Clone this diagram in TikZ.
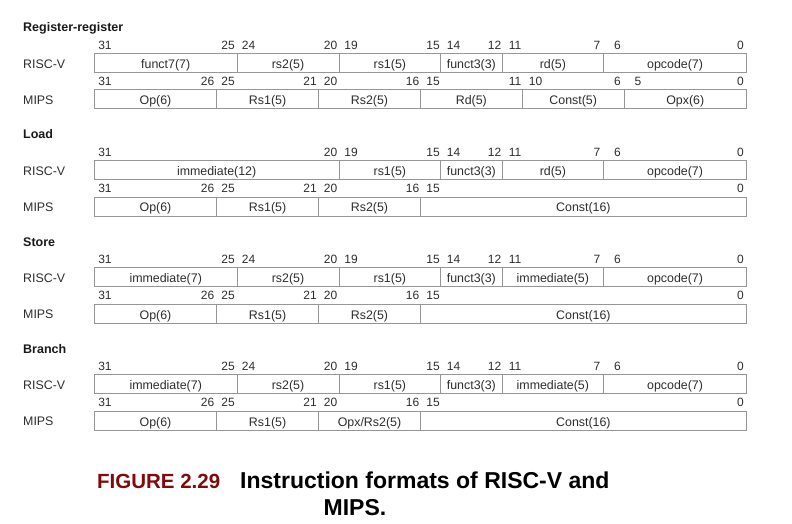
\documentclass[tikz,border=0pt]{standalone}
\usepackage{fontspec}
\setmainfont{Liberation Sans}
\definecolor{boxline}{RGB}{150,150,150}
\definecolor{txt}{RGB}{45,45,45}
\definecolor{figred}{RGB}{128,10,10}
\tikzset{
  fieldbox/.style={draw=boxline, line width=0.8bp, inner sep=0pt, text height=15bp, text depth=4bp,
    font=\fontsize{12.4bp}{14bp}\selectfont, text=txt, anchor=north west},
  bitnum/.style={inner sep=0pt, anchor=base, font=\fontsize{12bp}{14bp}\selectfont, text=txt},
  rowlabel/.style={inner sep=0pt, anchor=base west, font=\fontsize{12.4bp}{14bp}\selectfont, text=txt},
  sectitle/.style={inner sep=0pt, anchor=base west, font=\bfseries\fontsize{12.5bp}{14bp}\selectfont, text=black!90},
  caplabel/.style={inner sep=0pt, anchor=base west, font=\bfseries\fontsize{20.5bp}{24bp}\selectfont, text=figred},
  captext/.style={inner sep=0pt, font=\bfseries\fontsize{23bp}{26bp}\selectfont, text=black},
}
% field: name, high bit, low bit, top y, text
\newcommand{\fld}[5]{%
  \pgfmathsetmacro\fldx{94+(31-#2)*20.375}%
  \pgfmathsetmacro\fldw{(#2-#3+1)*20.375}%
  \node[fieldbox, minimum width=\fldw bp] (#1) at (\fldx,#4) {#5};}
% bit numbers: prefix, baseline y, list
\newcommand{\bitrow}[3]{%
  \foreach \b in {#3} {\node[bitnum] (#1-\b) at ({105+(31-\b)*20.5},#2) {\b};}}
\begin{document}
\begin{tikzpicture}[x=1bp,y=-1bp]
\useasboundingbox (0,0) rectangle (792,524);

% ---------- Register-register ----------
\begin{scope}[yshift=-52.8bp]
\node[sectitle] (rr-title) at (23,-21) {Register-register};
\bitrow{rr-rb}{-3.5}{31,25,24,20,19,15,14,12,11,7,6,0}
\node[rowlabel] (rr-rlab) at (23,15.3) {RISC-V};
\fld{rr-f7}{31}{25}{0}{funct7(7)}
\fld{rr-rs2}{24}{20}{0}{rs2(5)}
\fld{rr-rs1}{19}{15}{0}{rs1(5)}
\fld{rr-f3}{14}{12}{0}{funct3(3)}
\fld{rr-rd}{11}{7}{0}{rd(5)}
\fld{rr-op}{6}{0}{0}{opcode(7)}
\bitrow{rr-mb}{32.3}{31,26,25,21,20,16,15,11,10,6,5,0}
\node[rowlabel] (rr-mlab) at (23,51.5) {MIPS};
\fld{rr-mop}{31}{26}{36.5}{Op(6)}
\fld{rr-mrs1}{25}{21}{36.5}{Rs1(5)}
\fld{rr-mrs2}{20}{16}{36.5}{Rs2(5)}
\fld{rr-mrd}{15}{11}{36.5}{Rd(5)}
\fld{rr-mc}{10}{6}{36.5}{Const(5)}
\fld{rr-mopx}{5}{0}{36.5}{Opx(6)}
\end{scope}

% ---------- Load ----------
\begin{scope}[yshift=-160bp]
\node[sectitle] (ld-title) at (23,-21) {Load};
\bitrow{ld-rb}{-3.5}{31,20,19,15,14,12,11,7,6,0}
\node[rowlabel] (ld-rlab) at (23,15.3) {RISC-V};
\fld{ld-imm}{31}{20}{0}{immediate(12)}
\fld{ld-rs1}{19}{15}{0}{rs1(5)}
\fld{ld-f3}{14}{12}{0}{funct3(3)}
\fld{ld-rd}{11}{7}{0}{rd(5)}
\fld{ld-op}{6}{0}{0}{opcode(7)}
\bitrow{ld-mb}{32.3}{31,26,25,21,20,16,15,0}
\node[rowlabel] (ld-mlab) at (23,51.5) {MIPS};
\fld{ld-mop}{31}{26}{36.5}{Op(6)}
\fld{ld-mrs1}{25}{21}{36.5}{Rs1(5)}
\fld{ld-mrs2}{20}{16}{36.5}{Rs2(5)}
\fld{ld-mc}{15}{0}{36.5}{Const(16)}
\end{scope}

% ---------- Store ----------
\begin{scope}[yshift=-267.2bp]
\node[sectitle] (st-title) at (23,-21) {Store};
\bitrow{st-rb}{-3.5}{31,25,24,20,19,15,14,12,11,7,6,0}
\node[rowlabel] (st-rlab) at (23,15.3) {RISC-V};
\fld{st-imm}{31}{25}{0}{immediate(7)}
\fld{st-rs2}{24}{20}{0}{rs2(5)}
\fld{st-rs1}{19}{15}{0}{rs1(5)}
\fld{st-f3}{14}{12}{0}{funct3(3)}
\fld{st-imm2}{11}{7}{0}{immediate(5)}
\fld{st-op}{6}{0}{0}{opcode(7)}
\bitrow{st-mb}{32.3}{31,26,25,21,20,16,15,0}
\node[rowlabel] (st-mlab) at (23,51.5) {MIPS};
\fld{st-mop}{31}{26}{36.5}{Op(6)}
\fld{st-mrs1}{25}{21}{36.5}{Rs1(5)}
\fld{st-mrs2}{20}{16}{36.5}{Rs2(5)}
\fld{st-mc}{15}{0}{36.5}{Const(16)}
\end{scope}

% ---------- Branch ----------
\begin{scope}[yshift=-374.4bp]
\node[sectitle] (br-title) at (23,-21) {Branch};
\bitrow{br-rb}{-3.5}{31,25,24,20,19,15,14,12,11,7,6,0}
\node[rowlabel] (br-rlab) at (23,15.3) {RISC-V};
\fld{br-imm}{31}{25}{0}{immediate(7)}
\fld{br-rs2}{24}{20}{0}{rs2(5)}
\fld{br-rs1}{19}{15}{0}{rs1(5)}
\fld{br-f3}{14}{12}{0}{funct3(3)}
\fld{br-imm2}{11}{7}{0}{immediate(5)}
\fld{br-op}{6}{0}{0}{opcode(7)}
\bitrow{br-mb}{32.3}{31,26,25,21,20,16,15,0}
\node[rowlabel] (br-mlab) at (23,51.5) {MIPS};
\fld{br-mop}{31}{26}{36.5}{Op(6)}
\fld{br-mrs1}{25}{21}{36.5}{Rs1(5)}
\fld{br-mrs2}{20}{16}{36.5}{Opx/Rs2(5)}
\fld{br-mc}{15}{0}{36.5}{Const(16)}
\end{scope}

% ---------- Caption ----------
\node[caplabel] (cap-label) at (97,488.7) {FIGURE 2.29};
\node[captext, anchor=base west] (cap-title) at (240,488.7) {Instruction formats of RISC-V and};
\node[captext, anchor=base] (cap-line2) at (355,515) {MIPS.};
\end{tikzpicture}
\end{document}
